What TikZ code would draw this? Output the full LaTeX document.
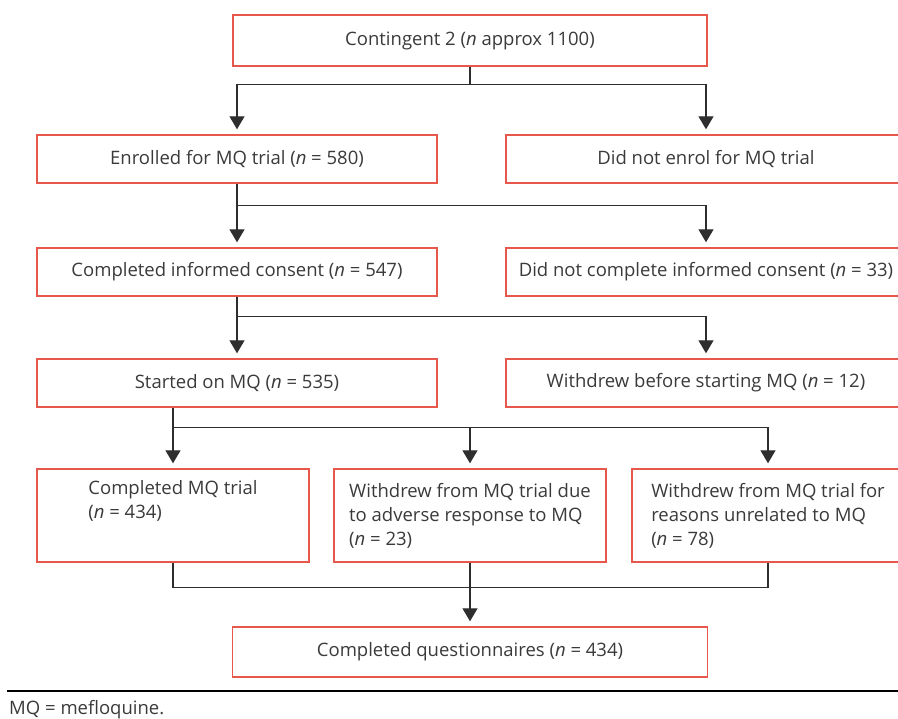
\documentclass[tikz,border=0pt]{standalone}
\usepackage{fontspec}
\setmainfont{Open Sans}
\usetikzlibrary{arrows.meta}
\definecolor{boxred}{HTML}{E8574C}
\definecolor{linegray}{HTML}{2E2E2E}
\definecolor{textgray}{HTML}{3A3A3A}
\begin{document}
\begin{tikzpicture}[x=1pt,y=-1pt]
		\tikzset{flowbox/.style={draw=boxred,line width=1.4pt,minimum width=400pt,minimum height=48pt,inner sep=0pt,text=textgray,font=\fontsize{18.5}{24}\selectfont},
			smallbox/.style={flowbox,minimum width=272pt,minimum height=93pt,align=left},
			link/.style={draw=linegray,line width=1.3pt},
			arrowlink/.style={link,-{Triangle[length=13pt,width=15pt]},shorten >=5pt}};
		\clip (0,0) rectangle (898,719);
		\node[flowbox,minimum width=474pt,minimum height=51pt] (cohort) at (470,40.5) {Contingent 2 (\textit{n} approx 1100)};
		\node[flowbox] (enrol) at (237,159) {Enrolled for MQ trial (\textit{n} = 580)};
		\node[flowbox] (noenrol) at (706,159) {Did not enrol for MQ trial};
		\node[flowbox] (consent) at (237,272) {Completed informed consent (\textit{n} = 547)};
		\node[flowbox] (noconsent) at (706,272) {Did not complete informed consent (\textit{n} = 33)};
		\node[flowbox] (started) at (237,383) {Started on MQ (\textit{n} = 535)};
		\node[flowbox] (withdrew) at (706,383) {Withdrew before starting MQ (\textit{n} = 12)};
		\node[smallbox] (done) at (173,515.5) {Completed MQ trial\\(\textit{n} = 434)\\\strut};
		\node[smallbox] (adverse) at (470,515.5) {Withdrew from MQ trial due\\to adverse response to MQ\\(\textit{n} = 23)};
		\node[smallbox] (unrel) at (768,515.5) {Withdrew from MQ trial for\\reasons unrelated to MQ\\(\textit{n} = 78)};
		\node[flowbox,minimum width=475pt,minimum height=50pt] (quest) at (470,652) {Completed questionnaires (\textit{n} = 434)};
		\draw[arrowlink] (cohort.south) -- ++(0,18) -| (enrol.north);
		\draw[arrowlink] (cohort.south) -- ++(0,18) -| (noenrol.north);
		\draw[arrowlink] (enrol.south) -- (consent.north);
		\draw[arrowlink] (enrol.south) -- ++(0,22) -| (noconsent.north);
		\draw[arrowlink] (consent.south) -- (started.north);
		\draw[arrowlink] (consent.south) -- ++(0,20) -| (withdrew.north);
		\coordinate (split) at (started.south -| done.north);
		\draw[arrowlink] (split) -- (done.north);
		\draw[arrowlink] (split) ++(0,20) -| (adverse.north);
		\draw[arrowlink] (split) ++(0,20) -| (unrel.north);
		\draw[link] (done.south) -- ++(0,25) -| (unrel.south);
		\draw[arrowlink] (adverse.south) -- (quest.north);
		\draw[line width=2pt] (7,691) -- (898,691);
		\node[anchor=west,inner sep=0pt,text=textgray,font=\fontsize{18.5}{24}\selectfont] (note) at (9,710) {MQ = mefloquine.};
	\end{tikzpicture}
\end{document}
